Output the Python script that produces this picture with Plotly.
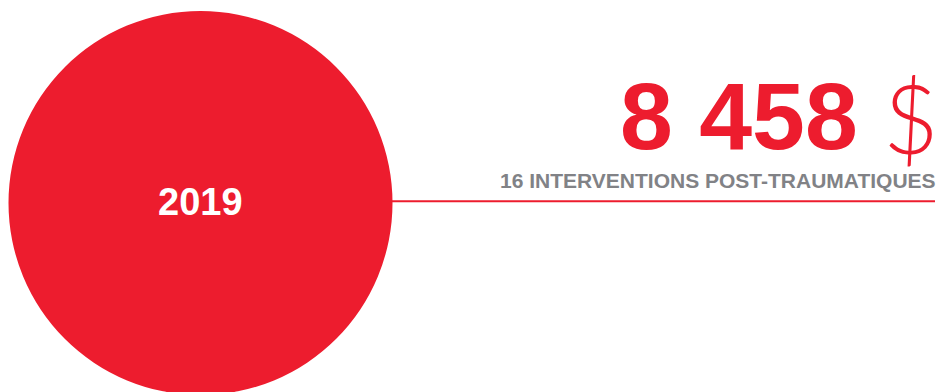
import plotly.graph_objects as go

# ---- data ----
YEAR = ["2019"]
AMOUNT = [8458]
CURRENCY = ["$"]
INTERVENTIONS = [16]
INTERVENTION_LABEL = ["INTERVENTIONS POST-TRAUMATIQUES"]

# ---- styles ----
RED = "#ED1C2E"
GRAY = "#818286"
W, H = 939, 392
FONT = "Liberation Sans, Arial, Helvetica, sans-serif"


def fmt(n):
    return f"{n:,}".replace(",", " ")


fig = go.Figure()

# circle
cx, cy, r = 200.5, 203.0, 192.0
fig.add_shape(type="circle", xref="x", yref="y",
              x0=cx - r, x1=cx + r, y0=cy - r, y1=cy + r,
              fillcolor=RED, line=dict(width=0), layer="below")
# connector line
fig.add_shape(type="line", xref="x", yref="y",
              x0=cx + r - 1, x1=935, y0=201.2, y1=201.2,
              line=dict(color=RED, width=2))

# year label
fig.add_annotation(x=cx, y=202, xref="x", yref="y", text=f"<b>{YEAR[0]}</b>",
                   showarrow=False, xanchor="center", yanchor="middle",
                   font=dict(family=FONT, size=38, color="white"))

# amount
fig.add_annotation(x=860, y=116, xref="x", yref="y", text=f"<b>{fmt(AMOUNT[0])}</b>",
                   showarrow=False, xanchor="right", yanchor="middle",
                   font=dict(family=FONT, size=95, color=RED))
fig.add_annotation(x=911, y=116.5, xref="x", yref="y", text=CURRENCY[0],
                   showarrow=False, xanchor="center", yanchor="middle",
                   font=dict(family="Lato, Roboto, sans-serif", size=96, color=RED, weight=300))

# subtitle
fig.add_annotation(x=938, y=180, xref="x", yref="y",
                   text=f"<b>{INTERVENTIONS[0]} {INTERVENTION_LABEL[0]}</b>",
                   showarrow=False, xanchor="right", yanchor="middle",
                   font=dict(family=FONT, size=21, color=GRAY))

fig.update_layout(width=W, height=H, margin=dict(l=0, r=0, t=0, b=0),
                  paper_bgcolor="white", plot_bgcolor="white", showlegend=False,
                  xaxis=dict(range=[0, W], visible=False, fixedrange=True),
                  yaxis=dict(range=[H, 0], visible=False, fixedrange=True))

fig.write_html("out.html", config={"displayModeBar": False},
               post_script="document.body.style.margin='0';document.body.style.overflow='hidden';")
